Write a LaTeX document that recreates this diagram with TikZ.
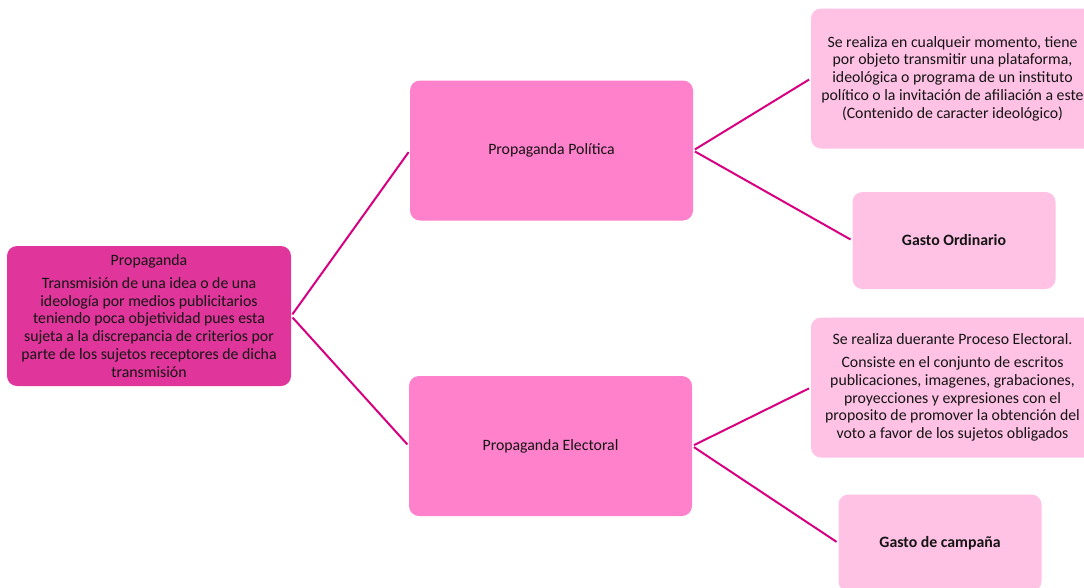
\documentclass[tikz,border=0pt]{standalone}
\usepackage{fontspec}
\setmainfont{Carlito}
\definecolor{rootc}{RGB}{224,53,154}
\definecolor{midc}{RGB}{255,128,203}
\definecolor{lightc}{RGB}{255,194,229}
\definecolor{linec}{RGB}{214,0,128}
\definecolor{txt}{RGB}{20,20,20}
\tikzset{
  box/.style={rectangle, rounded corners=10pt, inner sep=0pt, align=center,
    text=txt, font=\fontsize{15.8}{17.8}\selectfont},
  rootbox/.style={box, fill=rootc, minimum width=284pt, minimum height=140pt},
  midbox/.style={box, fill=midc, minimum width=283pt, minimum height=140pt},
  leafbox/.style={box, fill=lightc, minimum width=283pt, minimum height=140pt},
  smallbox/.style={box, fill=lightc, minimum width=203pt, minimum height=97pt, font=\fontsize{15.8}{17.8}\selectfont\bfseries},
  conn/.style={draw=linec, line width=2pt, shorten <=2pt, shorten >=2pt}
}
\begin{document}
\begin{tikzpicture}[x=1pt,y=-1pt]
\useasboundingbox (0,0) rectangle (1084,587);
\node[rootbox] (root) at (149,316) {Propaganda\\[5pt]
Transmisión de una idea o de una\\ideología por medios publicitarios\\teniendo poca objetividad pues esta\\sujeta a la discrepancia de criterios por\\parte de los sujetos receptores de dicha\\transmisión};
\node[midbox] (pol) at (551.5,150.5) {Propaganda Política};
\node[midbox] (ele) at (550.5,446) {Propaganda Electoral};
\node[leafbox] (poltxt) at (952.5,78.5) {Se realiza en cualqueir momento, tiene\\por objeto transmitir una plataforma,\\ideológica o programa de un instituto\\político o la invitación de afiliación a este\\(Contenido de caracter ideológico)};
\node[smallbox] (ord) at (954,240.5) {Gasto Ordinario};
\node[leafbox] (eletxt) at (952.5,387.5) {Se realiza duerante Proceso Electoral.\\[5pt]
Consiste en el conjunto de escritos\\publicaciones, imagenes, grabaciones,\\proyecciones y expresiones con el\\proposito de promover la obtención del\\voto a favor de los sujetos obligados};
\node[smallbox] (camp) at (940,543) {Gasto de campaña};
\draw[conn] (root.east) -- (pol.west);
\draw[conn] (root.east) -- (ele.west);
\draw[conn] (pol.east) -- (poltxt.west);
\draw[conn] (pol.east) -- (ord.west);
\draw[conn] (ele.east) -- (eletxt.west);
\draw[conn] (ele.east) -- (camp.west);
\end{tikzpicture}
\end{document}
